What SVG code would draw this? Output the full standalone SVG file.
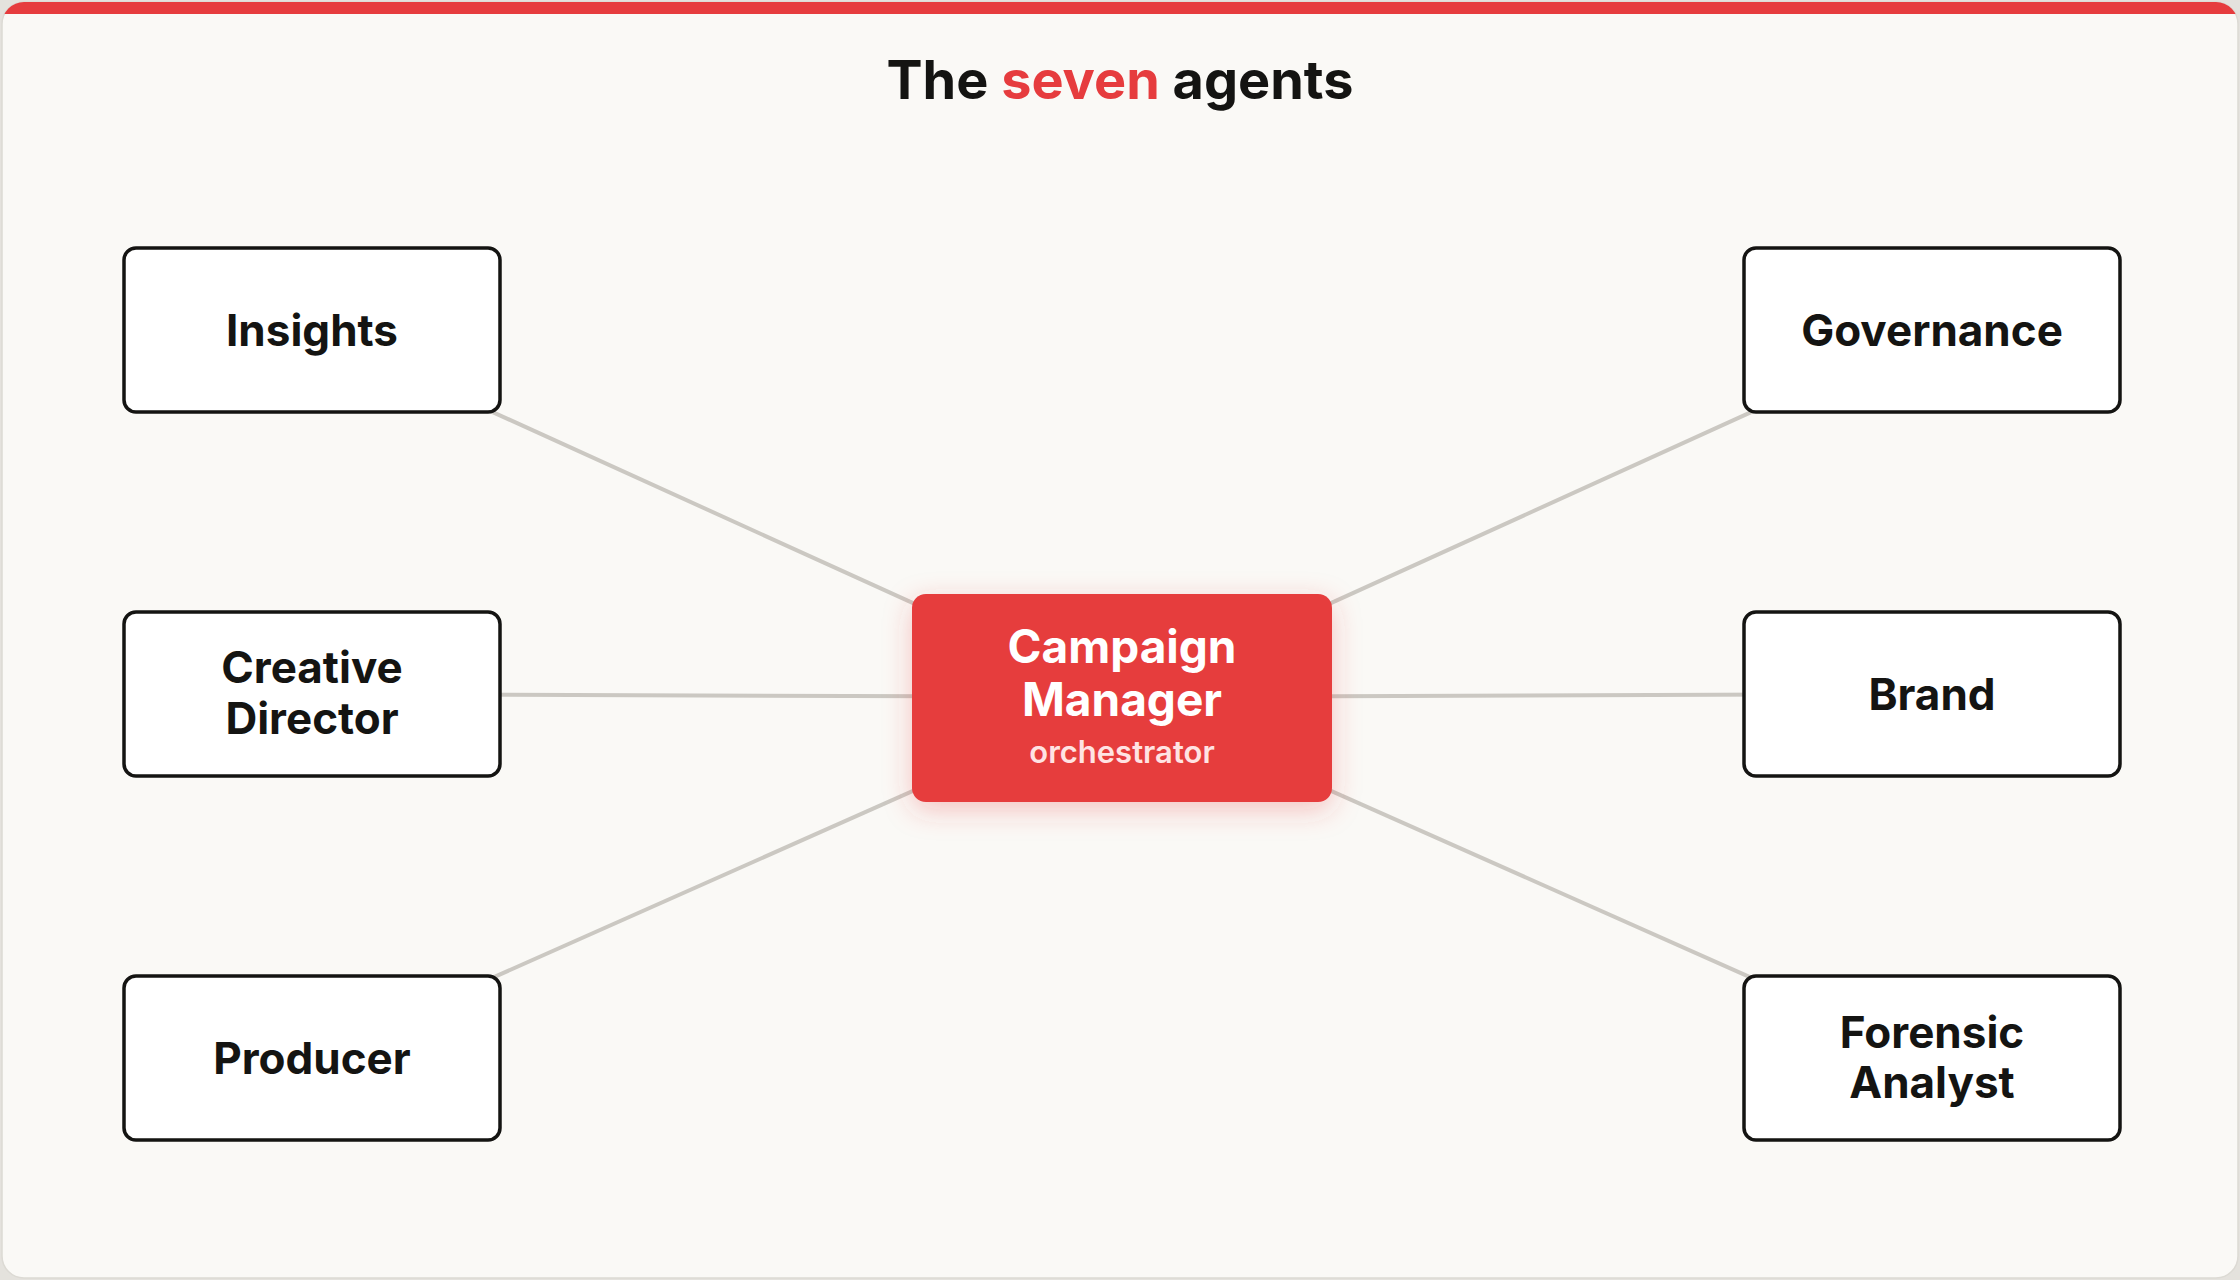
<svg xmlns="http://www.w3.org/2000/svg" width="2240" height="1280" viewBox="0 0 2240 1280">
<defs>
<style>
.node rect{fill:#ffffff;stroke:#141412;stroke-width:3.5}
.lbl{font-family:Inter,"Noto Sans","Liberation Sans",sans-serif;font-weight:700;font-size:44px;fill:#141412;text-anchor:middle}
.conn line{stroke:#cbc8c2;stroke-width:4;stroke-linecap:round}
.cm{font-family:Inter,"Noto Sans","Liberation Sans",sans-serif;font-weight:700;font-size:46px;fill:#ffffff;text-anchor:middle}
.sub{font-family:Inter,"Noto Sans","Liberation Sans",sans-serif;font-weight:600;font-size:31px;fill:#ffe3e3;text-anchor:middle}
</style>
<clipPath id="cardclip"><rect x="2" y="2" width="2236" height="1276" rx="22"/></clipPath>
<filter id="glow" x="-30%" y="-40%" width="160%" height="180%">
<feDropShadow dx="0" dy="8" stdDeviation="14" flood-color="#e63c3e" flood-opacity="0.28"/>
</filter>
</defs>
<rect width="2240" height="1280" fill="#e4e2dd"/>
<rect x="2" y="2" width="2236" height="1276" rx="22" fill="#faf9f6" stroke="#dcdad4" stroke-width="1.5"/>
<rect x="0" y="0" width="2240" height="14" fill="#e63c3e" clip-path="url(#cardclip)"/>
<text x="1120" y="99" font-family="Inter,'Noto Sans','Liberation Sans',sans-serif" font-weight="700" font-size="54" fill="#141412" text-anchor="middle">The <tspan fill="#e63c3e">seven</tspan> agents</text>
<g id="connectors" class="conn">
<line x1="1122" y1="698" x2="312" y2="330"/>
<line x1="1122" y1="697" x2="312" y2="694"/>
<line x1="1122" y1="698" x2="312" y2="1058"/>
<line x1="1122" y1="698" x2="1932" y2="330"/>
<line x1="1122" y1="697" x2="1932" y2="694"/>
<line x1="1122" y1="698" x2="1932" y2="1058"/>
</g>
<g id="insights" class="node">
<rect x="124" y="248" width="376" height="164" rx="12"/>
<text class="lbl" x="312" y="346">Insights</text>
</g>
<g id="creative-director" class="node">
<rect x="124" y="612" width="376" height="164" rx="12"/>
<text class="lbl" x="312" y="683">Creative</text>
<text class="lbl" x="312" y="734">Director</text>
</g>
<g id="producer" class="node">
<rect x="124" y="976" width="376" height="164" rx="12"/>
<text class="lbl" x="312" y="1074">Producer</text>
</g>
<g id="governance" class="node">
<rect x="1744" y="248" width="376" height="164" rx="12"/>
<text class="lbl" x="1932" y="346">Governance</text>
</g>
<g id="brand" class="node">
<rect x="1744" y="612" width="376" height="164" rx="12"/>
<text class="lbl" x="1932" y="710">Brand</text>
</g>
<g id="forensic-analyst" class="node">
<rect x="1744" y="976" width="376" height="164" rx="12"/>
<text class="lbl" x="1932" y="1048">Forensic</text>
<text class="lbl" x="1932" y="1098">Analyst</text>
</g>
<g id="campaign-manager">
<rect x="912" y="594" width="420" height="208" rx="14" fill="#e63c3e" filter="url(#glow)"/>
<text class="cm" x="1122" y="663">Campaign</text>
<text class="cm" x="1122" y="716">Manager</text>
<text class="sub" x="1122" y="763">orchestrator</text>
</g>
</svg>
